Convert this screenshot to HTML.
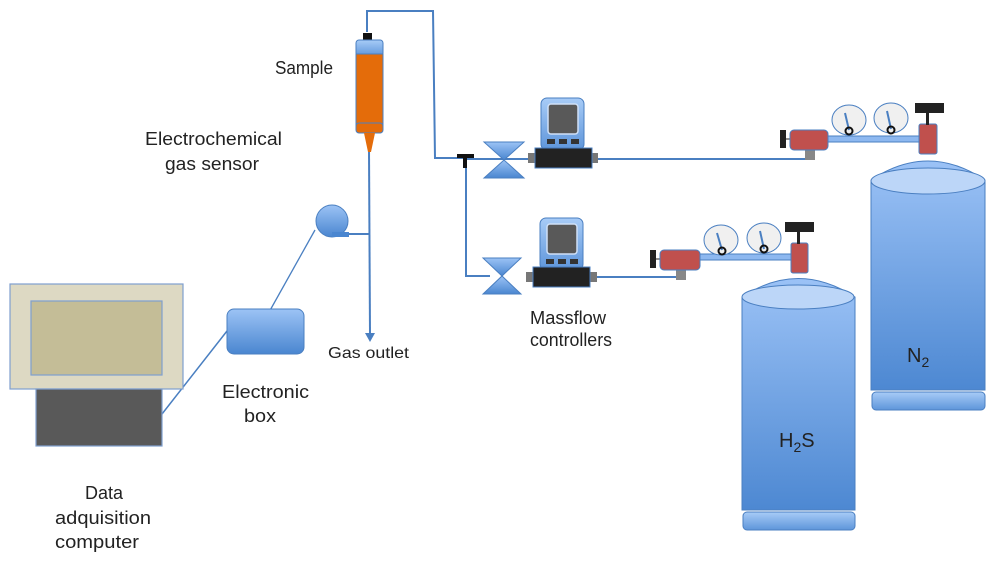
<!DOCTYPE html>
<html><head><meta charset="utf-8"><style>
html,body{margin:0;padding:0;background:#fff;}
svg{display:block;}
text{font-family:"Liberation Sans",sans-serif;font-size:18px;fill:#222;}
</style></head><body>
<svg width="997" height="561" viewBox="0 0 997 561" xmlns="http://www.w3.org/2000/svg">
<defs>
<linearGradient id="bl" x1="0" y1="0" x2="0" y2="1"><stop offset="0" stop-color="#9cc3f5"/><stop offset="1" stop-color="#4a86d0"/></linearGradient>
<linearGradient id="bl2" x1="0" y1="0" x2="0" y2="1"><stop offset="0" stop-color="#a8ccf7"/><stop offset="1" stop-color="#5e95da"/></linearGradient>
<linearGradient id="cyl" x1="0" y1="0" x2="0" y2="1"><stop offset="0" stop-color="#9bc2f6"/><stop offset="1" stop-color="#4d88d2"/></linearGradient>
</defs>
<g fill="none" stroke="#4a7fc1" stroke-width="2">
<polyline points="367,32 367,11 433,11 435,158 466,158"/>
<polyline points="466,162 466,276 490,276"/>
<line x1="466" y1="159" x2="535" y2="159"/>
<line x1="598" y1="159" x2="808" y2="159"/>
<line x1="596" y1="277" x2="683" y2="277"/>
<line x1="369" y1="150" x2="370" y2="335"/>
<line x1="345" y1="234" x2="369" y2="234"/>
<line x1="268" y1="314" x2="315" y2="230" stroke-width="1.3"/>
<line x1="227" y1="331" x2="162" y2="414" stroke-width="1.5"/>
</g>
<polygon points="365,333 370,342 375,333" fill="#4a7fc1"/>
<rect x="10" y="284" width="173" height="105" fill="#ddd9c3" stroke="#7f9fcf" stroke-width="1.2"/>
<rect x="31" y="301" width="131" height="74" fill="#c4bd97" stroke="#7f9fcf" stroke-width="1.2"/>
<rect x="36" y="389" width="126" height="57" fill="#595959" stroke="#7f9fcf" stroke-width="1.2"/>
<rect x="227" y="309" width="77" height="45" rx="7" fill="url(#bl)" stroke="#4a7fc1"/>
<circle cx="332" cy="221" r="16" fill="url(#bl)" stroke="#4a7fc1"/>
<rect x="332" y="232" width="17" height="5" fill="#4a86d0"/>
<rect x="363" y="33" width="9" height="11" fill="#111"/>
<rect x="356" y="40" width="27" height="16" rx="3" fill="url(#bl2)" stroke="#4a7fc1"/>
<rect x="356" y="54" width="27" height="72" fill="#e46c0a" stroke="#4a7fc1"/>
<rect x="356" y="123" width="27" height="10" rx="3" fill="#e46c0a" stroke="#4a7fc1"/>
<polygon points="364,133 375,133 371,152 368,152" fill="#e46c0a"/>
<path d="M457,156 h17 M465,156 v12" stroke="#111" stroke-width="4"/>
<g fill="url(#bl)" stroke="#4a7fc1">
<polygon points="484,142 524,142 504,160"/><polygon points="484,178 524,178 504,160"/>
<polygon points="483,258 521,258 502,276"/><polygon points="483,294 521,294 502,276"/>
</g>
<rect x="541" y="98" width="43" height="52" rx="6" fill="url(#bl2)" stroke="#4a7fc1"/>
<rect x="548" y="104" width="30" height="30" rx="3" fill="#595959" stroke="#cfe0f7" stroke-width="1.5"/>
<rect x="547" y="139" width="8" height="5" fill="#333"/><rect x="559" y="139" width="8" height="5" fill="#333"/><rect x="571" y="139" width="8" height="5" fill="#333"/>
<rect x="528" y="153" width="8" height="10" fill="#777"/><rect x="590" y="153" width="8" height="10" fill="#777"/>
<rect x="535" y="148" width="57" height="20" fill="#222" stroke="#4a7fc1"/>
<rect x="540" y="218" width="43" height="52" rx="6" fill="url(#bl2)" stroke="#4a7fc1"/>
<rect x="547" y="224" width="30" height="30" rx="3" fill="#595959" stroke="#cfe0f7" stroke-width="1.5"/>
<rect x="546" y="259" width="8" height="5" fill="#333"/><rect x="558" y="259" width="8" height="5" fill="#333"/><rect x="570" y="259" width="8" height="5" fill="#333"/>
<rect x="526" y="272" width="8" height="10" fill="#777"/><rect x="589" y="272" width="8" height="10" fill="#777"/>
<rect x="533" y="267" width="57" height="20" fill="#222" stroke="#4a7fc1"/>
<path d="M871,180 Q928,142 985,180 L985,390 L871,390 Z" fill="url(#cyl)" stroke="#4a7fc1"/>
<ellipse cx="928" cy="181" rx="57" ry="13" fill="#bcd6f8" stroke="#4a7fc1"/>
<rect x="872" y="392" width="113" height="18" rx="4" fill="url(#bl2)" stroke="#4a7fc1"/>
<path d="M742,297 Q798,260 855,297 L855,510 L742,510 Z" fill="url(#cyl)" stroke="#4a7fc1"/>
<ellipse cx="798" cy="297" rx="56" ry="12" fill="#bcd6f8" stroke="#4a7fc1"/>
<rect x="743" y="512" width="112" height="18" rx="4" fill="url(#bl2)" stroke="#4a7fc1"/>
<rect x="805" y="148" width="10" height="12" fill="#888"/>
<rect x="780" y="130" width="6" height="18" fill="#222"/><line x1="786" y1="139" x2="790" y2="139" stroke="#222"/>
<rect x="827" y="136" width="95" height="6" fill="#8db8f0" stroke="#4a7fc1"/>
<rect x="790" y="130" width="38" height="20" rx="4" fill="#c0504d" stroke="#4a7fc1"/>
<ellipse cx="849" cy="120" rx="17" ry="15" fill="#f0f0f0" stroke="#4a7fc1"/>
<ellipse cx="891" cy="118" rx="17" ry="15" fill="#f0f0f0" stroke="#4a7fc1"/>
<g stroke="#4a7fc1" stroke-width="2"><line x1="849" y1="130" x2="845" y2="113"/><line x1="891" y1="129" x2="887" y2="111"/></g>
<circle cx="849" cy="131" r="3.5" fill="none" stroke="#111" stroke-width="2"/><circle cx="891" cy="130" r="3.5" fill="none" stroke="#111" stroke-width="2"/>
<rect x="919" y="124" width="18" height="30" rx="2" fill="#c0504d" stroke="#4a7fc1"/>
<rect x="915" y="103" width="29" height="10" fill="#222"/><rect x="926" y="113" width="3" height="12" fill="#222"/>
<rect x="676" y="268" width="10" height="12" fill="#888"/>
<rect x="650" y="250" width="6" height="18" fill="#222"/><line x1="656" y1="259" x2="660" y2="259" stroke="#222"/>
<rect x="699" y="254" width="93" height="6" fill="#8db8f0" stroke="#4a7fc1"/>
<rect x="660" y="250" width="40" height="20" rx="4" fill="#c0504d" stroke="#4a7fc1"/>
<ellipse cx="721" cy="240" rx="17" ry="15" fill="#f0f0f0" stroke="#4a7fc1"/>
<ellipse cx="764" cy="238" rx="17" ry="15" fill="#f0f0f0" stroke="#4a7fc1"/>
<g stroke="#4a7fc1" stroke-width="2"><line x1="722" y1="250" x2="717" y2="233"/><line x1="764" y1="249" x2="760" y2="231"/></g>
<circle cx="722" cy="251" r="3.5" fill="none" stroke="#111" stroke-width="2"/><circle cx="764" cy="249" r="3.5" fill="none" stroke="#111" stroke-width="2"/>
<rect x="791" y="243" width="17" height="30" rx="2" fill="#c0504d" stroke="#4a7fc1"/>
<rect x="785" y="222" width="29" height="10" fill="#222"/><rect x="797" y="232" width="3" height="12" fill="#222"/>
<g>
<text x="275" y="74" textLength="58" lengthAdjust="spacingAndGlyphs">Sample</text>
<text x="145" y="145" textLength="137" lengthAdjust="spacingAndGlyphs">Electrochemical</text>
<text x="165" y="170" textLength="94" lengthAdjust="spacingAndGlyphs">gas sensor</text>
<text x="328" y="358" textLength="81" lengthAdjust="spacingAndGlyphs" style="font-size:16px">Gas outlet</text>
<text x="222" y="398" textLength="87" lengthAdjust="spacingAndGlyphs">Electronic</text>
<text x="244" y="422" textLength="32" lengthAdjust="spacingAndGlyphs">box</text>
<text x="530" y="324" textLength="76" lengthAdjust="spacingAndGlyphs">Massflow</text>
<text x="530" y="346" textLength="82" lengthAdjust="spacingAndGlyphs">controllers</text>
<text x="85" y="499" textLength="38" lengthAdjust="spacingAndGlyphs">Data</text>
<text x="55" y="524" textLength="96" lengthAdjust="spacingAndGlyphs">adquisition</text>
<text x="55" y="548" textLength="84" lengthAdjust="spacingAndGlyphs">computer</text>
</g>
<text x="907" y="362" style="font-size:20px">N<tspan dy="5" style="font-size:14px">2</tspan></text>
<text x="779" y="447" style="font-size:20px">H<tspan dy="5" style="font-size:14px">2</tspan><tspan dy="-5">S</tspan></text>
</svg>
</body></html>
